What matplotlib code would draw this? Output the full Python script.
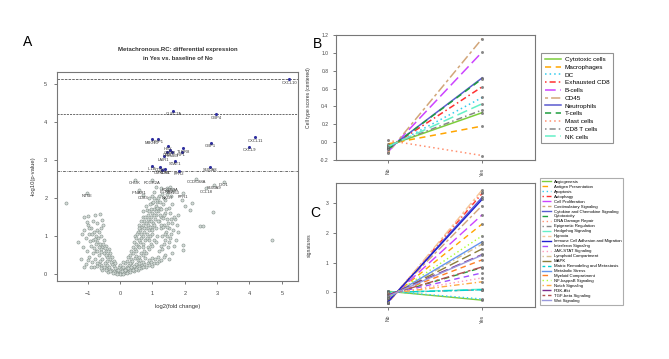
import matplotlib
matplotlib.use("Agg")
import matplotlib.pyplot as plt
from matplotlib.lines import Line2D

plt.rcParams['font.family'] = ['Liberation Sans', 'DejaVu Sans']

# ---------------- Panel A data ----------------
vol_x = [-0.05,0.02,0.08,-0.12,0.15,-0.2,0.22,0.3,-0.28,0.38,-0.35,0.45,-0.42,0.52,-0.5,0.6,-0.58,0.68,0.75,-0.65,
         0.1,-0.1,0.0,0.05,-0.03,0.2,-0.18,0.28,0.35,-0.25,0.85,0.95,1.05,1.15,-0.72,-0.8,-0.9,0.12,-0.08,0.18,
         0.42,0.55,-0.38,0.65,0.8,0.9,1.0,1.2,-0.55,0.25,
         -0.3,-0.35,-0.4,-0.45,-0.5,-0.55,-0.6,-0.62,-0.7,-0.68,-0.75,-0.8,-0.72,-0.85,-0.9,-0.95,-1.0,-0.6,-0.5,-0.45,
         -0.4,-0.28,-0.55,-0.65,-0.75,-0.85,-0.95,-1.05,-1.15,-1.18,-1.1,-1.01,-0.79,-0.62,-1.67,-0.9,-0.58,-0.52,-0.7,-0.35,
         -0.25,-0.2,-0.15,-1.3,-1.2,
         0.2,0.25,0.3,0.35,0.4,0.45,0.5,0.55,0.6,0.62,0.65,0.7,0.72,0.75,0.78,0.8,0.82,0.85,0.88,0.9,
         0.92,0.95,0.98,1.0,1.02,1.05,1.08,1.1,1.12,1.15,1.18,1.2,1.22,1.25,1.28,1.3,1.32,1.35,1.38,1.4,
         1.42,1.45,1.48,1.5,1.55,1.6,1.65,1.72,1.95,1.95,2.16,2.21,2.47,2.55,2.86,4.71,0.62,0.72,0.82,0.98,
         1.13,1.34,1.44,
         0.3,0.38,0.45,0.5,0.55,0.6,0.65,0.7,0.75,0.8,0.85,0.9,0.95,1.0,1.05,1.1,1.15,1.2,1.25,1.3,
         1.35,1.4,1.0,0.9,0.7,0.5,0.45,0.55,0.6,0.68,0.75,0.85,0.95,1.05,1.2,1.3,1.4,1.5,1.55,1.6,
         1.7,1.45,1.25,0.8,0.9,0.7,1.75,1.8,1.62,1.5,1.35,
         -0.15,0.0,0.1,-0.1,0.2,-0.22,0.3,-0.3,0.4,0.48,-0.45,0.58,0.7,-0.6,0.05,-0.05,0.15,-0.15,0.25,0.33,
         0.42,0.5,0.58,-0.33,-0.4,-0.48,0.1,0.0,0.15,0.08,0.72,0.62,0.88,0.98,1.08,1.18,1.28,0.78,-0.62,-0.78,
         -0.88,-0.98,-1.1,-0.7,
         0.35,0.4,0.42,0.5,0.52,0.58,0.6,0.64,0.66,0.7,0.74,0.76,0.8,0.82,0.86,0.88,0.92,0.94,0.96,1.0,
         1.02,1.04,1.06,1.1,1.12,1.14,1.16,1.18,1.22,1.24,1.26,1.28,1.32,1.36,1.38,1.42,1.46,1.48,1.52,1.56,
         1.58,1.66,1.68,1.8,1.9,2.0,1.05,0.98,1.12,1.35,1.58,
         -0.32,-0.38,-0.42,-0.48,-0.52,-0.58,-0.64,-0.66,-0.7,-0.74,-0.78,-0.82,-0.86,-0.92,-0.96,-1.02,-1.06,-1.12,-0.56,-0.84,
         -0.98]
vol_y = [0.02,0.01,0.03,0.05,0.06,0.08,0.09,0.12,0.11,0.15,0.14,0.18,0.17,0.2,0.2,0.22,0.23,0.25,0.27,0.26,
         0.1,0.12,0.07,0.15,0.18,0.2,0.22,0.25,0.28,0.27,0.3,0.32,0.3,0.28,0.3,0.18,0.2,0.04,0.03,0.14,
         0.08,0.12,0.06,0.16,0.2,0.24,0.22,0.35,0.12,0.05,
         0.4,0.5,0.45,0.6,0.55,0.7,0.65,0.8,0.85,0.95,1.0,1.1,1.15,0.9,1.2,1.05,1.3,1.0,0.9,0.75,
         0.35,0.32,0.4,0.5,0.6,0.55,0.45,0.27,0.71,1.05,1.49,1.36,1.56,1.57,1.88,0.75,1.2,1.3,1.35,0.65,
         0.45,0.35,0.3,0.85,0.4,
         0.35,0.45,0.5,0.4,0.55,0.65,0.6,0.75,0.7,0.85,0.95,0.8,1.0,1.1,0.9,1.2,1.05,1.3,1.15,1.4,
         1.0,1.5,1.25,1.6,1.35,1.7,1.45,1.8,1.55,1.9,1.65,1.4,1.75,1.2,1.5,1.0,1.85,1.3,1.6,0.9,
         1.1,1.45,0.7,1.2,0.95,1.35,1.16,0.9,0.77,0.64,1.69,1.86,1.27,1.27,1.62,0.9,1.16,1.51,1.69,1.86,
         1.95,1.47,1.25,
         0.3,0.35,0.42,0.48,0.38,0.45,0.55,0.5,0.62,0.55,0.7,0.65,0.8,0.75,0.9,0.85,1.0,0.6,0.75,0.65,
         0.8,0.5,1.05,0.9,0.7,0.8,1.0,1.1,1.3,1.25,1.4,1.55,1.7,2.0,2.05,2.1,1.95,1.75,1.6,1.85,
         1.45,2.2,2.25,1.8,2.0,1.65,1.3,1.1,0.55,0.4,0.45,
         0.02,0.0,0.0,0.0,0.02,0.04,0.05,0.08,0.1,0.13,0.12,0.15,0.18,0.15,0.08,0.1,0.12,0.16,0.16,0.2,
         0.22,0.26,0.3,0.2,0.25,0.3,0.2,0.25,0.28,0.32,0.33,0.36,0.38,0.42,0.4,0.46,0.38,0.42,0.35,0.4,
         0.32,0.36,0.2,0.22,
         0.6,0.7,0.85,0.95,1.05,0.9,1.2,1.4,1.05,1.3,1.2,1.5,1.35,0.95,1.45,1.65,1.25,1.85,1.4,1.15,
         1.9,1.55,1.3,1.65,1.2,1.75,1.4,2.0,1.55,1.9,1.3,1.7,1.25,1.55,1.05,1.7,1.0,1.35,0.85,1.45,
         1.05,1.5,0.75,1.55,1.95,1.8,2.15,2.05,2.3,2.0,2.05,
         0.55,0.62,0.5,0.68,0.8,0.58,0.72,1.1,0.62,0.78,0.92,0.68,1.05,0.88,1.2,0.6,0.95,1.15,1.42,1.4,
         1.52]

sig_genes = ['CXCL10','CLEC7A','GBP4','GBP1','CXCL11','CXCL9','MBC13','IDPP1','HBX','TLRR8','CD2','GZMB',
             'PSMB9','IRF1','LAIR1','STAT1','IL1B','CD86','CMKLR1','TLR8','FPR2','S100A8']
sig_x = [5.23,1.65,2.96,2.80,4.17,3.99,0.98,1.16,1.49,1.95,1.45,1.55,1.6,1.9,1.35,1.69,0.98,1.23,1.30,1.40,1.82,2.78]
sig_y = [5.12,4.29,4.20,3.45,3.60,3.35,3.54,3.56,3.37,3.31,3.22,3.26,3.20,3.22,3.10,2.98,2.84,2.82,2.74,2.76,2.72,2.82]

ns_genes = ['NT5E','CHUK','FCGR2A','LILRB2','FCGR3A','CD163','CCDC88A','IDO1','CCL18','S100A9','IFNAR1','CD83','NKG7','FPR1']
ns_x = [-1.03,0.45,1.0,1.45,1.55,1.65,2.35,3.2,2.65,2.9,0.6,0.7,1.45,1.95]
ns_y = [2.13,2.48,2.48,2.25,2.30,2.22,2.50,2.42,2.25,2.35,2.22,2.08,2.10,2.12]

thresholds = [5.12, 4.20, 2.71]

# ---------------- Panel B data ----------------
groups = ['No', 'Yes']
cell_types = ['Cytotoxic cells','Macrophages','DC','Exhausted CD8','B-cells','CD45','Neutrophils',
              'T-cells','Mast cells','CD8 T cells','NK cells']
cell_no  = [-0.04,-0.02,-0.06,-0.07,-0.11,-0.12,-0.08,-0.08,0.02,-0.04,-0.05]
cell_yes = [0.33, 0.18, 0.50, 0.62, 1.01, 1.16, 0.72, 0.71, -0.15, 0.36, 0.43]

# ---------------- Panel C data ----------------
signatures = ['Angiogenesis','Antigen Presentation','Apoptosis','Autophagy','Cell Proliferation',
              'Costimulatory Signaling','Cytokine and Chemokine Signaling','Cytotoxicity','DNA Damage Repair',
              'Epigenetic Regulation','Hedgehog Signaling','Hypoxia','Immune Cell Adhesion and Migration',
              'Interferon Signaling','JAK-STAT Signaling','Lymphoid Compartment','MAPK',
              'Matrix Remodeling and Metastasis','Metabolic Stress','Myeloid Compartment','NF-kappaB Signaling',
              'Notch Signaling','PI3K-Akt','TGF-beta Signaling','Wnt Signaling']
sig_no  = [0.03,-0.25,0.03,-0.36,-0.28,-0.3,-0.34,-0.1,-0.36,-0.01,-0.01,-0.38,-0.33,-0.08,-0.06,-0.18,-0.16,
           -0.01,-0.19,-0.12,-0.2,-0.05,-0.11,-0.09,-0.14]
sig_yes = [-0.27,2.30,-0.23,3.33,2.61,2.92,3.20,0.83,3.38,0.08,0.10,3.45,3.13,0.65,0.48,1.62,1.46,0.08,1.70,
           1.09,1.90,0.35,1.27,0.85,1.25]

palette = ['#7ccd3c','#ffa500','#33ccee','#ff3030','#cc44ff','#d2a679','#5a5ad0','#1e9e3e','#ff9070','#888888',
           '#66f0c8','#f5c89a','#2020d0','#a050ff','#ff99bb','#d8c090','#8b7d3a','#00d0d0','#6495ed','#ff7f24',
           '#adff2f','#ffaa44','#7b2d8e','#b05050','#9999dd']
ltys = ['-', (0,(4,3)), (0,(1,2)), (0,(1,2,4,2)), (0,(7,3)), (0,(2,2,6,2))]

W, H = 669, 359
fig = plt.figure(figsize=(W/100, H/100), dpi=100)

def fx(px): return px / W
def fy(py): return 1 - py / H

spine_col = '#777777'

# ---------------- Panel A ----------------
axA = fig.add_axes([fx(57), fy(281), fx(298) - fx(57), fy(72) - fy(281)])
axA.scatter(vol_x, vol_y, s=5, facecolors='#d3dbd7', edgecolors='#85918b', linewidths=0.4, zorder=2)
axA.scatter(ns_x, ns_y, s=5, facecolors='#d3dbd7', edgecolors='#85918b', linewidths=0.4, zorder=2)
axA.scatter(sig_x, sig_y, s=5, color='#3030a0', zorder=3, linewidths=0)
for g, x, y in zip(sig_genes, sig_x, sig_y):
    axA.text(x, y - 0.09, g, fontsize=3.0, ha='center', va='center', color='#333333', zorder=4)
for g, x, y in zip(ns_genes, ns_x, ns_y):
    axA.text(x, y - 0.09, g, fontsize=3.0, ha='center', va='center', color='#333333', zorder=4)
for t, ls in zip(thresholds, ['--', (0,(3,1.5)), (0,(4,1.5,1,1.5))]):
    axA.axhline(t, color='#333333', lw=0.5, linestyle=ls, zorder=1)
axA.set_xlim(-1.95, 5.5)
axA.set_ylim(-0.18, 5.31)
axA.set_xticks([-1,0,1,2,3,4,5])
axA.set_yticks([0,1,2,3,4,5])
axA.tick_params(labelsize=4, length=2, width=0.5, colors='#444444', pad=5)
for s in axA.spines.values():
    s.set_color(spine_col); s.set_linewidth(0.8)
axA.set_xlabel('log2(fold change)', fontsize=4.2, color='#333333', labelpad=6)
axA.set_ylabel('-log10(p-value)', fontsize=4.2, color='#333333', labelpad=6)
axA.set_title('Metachronous.RC: differential expression\nin Yes vs. baseline of No', fontsize=4.3,
              fontweight='bold', color='#333333', pad=9, linespacing=1.9)
fig.text(fx(28), fy(42), 'A', fontsize=10, ha='center', va='center')

# ---------------- Panel B ----------------
axB = fig.add_axes([fx(336), fy(160), fx(535) - fx(336), fy(35) - fy(160)])
handles = []
for i, name in enumerate(cell_types):
    axB.plot([1, 2], [cell_no[i], cell_yes[i]], color=palette[i], lw=1.1, linestyle=ltys[i % 6])
    axB.plot([1, 2], [cell_no[i], cell_yes[i]], linestyle='none', marker='o', ms=1.6,
             mfc='#888888', mec='#555555', mew=0.3)
    handles.append(Line2D([], [], color=palette[i], lw=1.1, linestyle=ltys[i % 6]))
axB.set_xlim(0.45, 2.56)
axB.set_ylim(-0.2, 1.2)
axB.set_xticks([1, 2])
axB.set_xticklabels(groups, rotation=90)
axB.set_yticks([-0.2,0.0,0.2,0.4,0.6,0.8,1.0,1.2])
axB.set_yticklabels(['-0.2','0.0','0.2','0.4','0.6','0.8','1.0','1.2'])
axB.tick_params(labelsize=3.6, length=2, width=0.5, colors='#444444')
for s in axB.spines.values():
    s.set_color(spine_col); s.set_linewidth(0.8)
axB.set_ylabel('Cell type scores (centered)', fontsize=3.6, color='#333333', labelpad=6)
fig.text(fx(318), fy(44), 'B', fontsize=10, ha='center', va='center')
legB = fig.legend(handles, cell_types, loc='upper left', bbox_to_anchor=(fx(541), fy(53)),
                  fontsize=4.6, frameon=True, fancybox=False, handlelength=2.6, handletextpad=0.6,
                  labelspacing=0.36, borderpad=0.55, borderaxespad=0)
legB.get_frame().set_edgecolor('#777777'); legB.get_frame().set_linewidth(0.8)

# ---------------- Panel C ----------------
axC = fig.add_axes([fx(336), fy(307), fx(535) - fx(336), fy(183) - fy(307)])
handlesC = []
for i, name in enumerate(signatures):
    axC.plot([1, 2], [sig_no[i], sig_yes[i]], color=palette[i], lw=1.0, linestyle=ltys[i % 6])
    axC.plot([1, 2], [sig_no[i], sig_yes[i]], linestyle='none', marker='o', ms=1.6,
             mfc='#888888', mec='#555555', mew=0.3)
    handlesC.append(Line2D([], [], color=palette[i], lw=1.0, linestyle=ltys[i % 6]))
axC.set_xlim(0.45, 2.56)
axC.set_ylim(-0.5, 3.68)
axC.set_xticks([1, 2])
axC.set_xticklabels(groups, rotation=90)
axC.set_yticks([0, 1, 2, 3])
axC.tick_params(labelsize=3.6, length=2, width=0.5, colors='#444444')
for s in axC.spines.values():
    s.set_color(spine_col); s.set_linewidth(0.8)
axC.set_ylabel('signatures', fontsize=3.6, color='#333333', labelpad=10)
fig.text(fx(315), fy(213), 'C', fontsize=10, ha='center', va='center')
legC = fig.legend(handlesC, signatures, loc='upper left', bbox_to_anchor=(fx(540), fy(178)),
                  fontsize=3.1, frameon=True, fancybox=False, handlelength=2.2, handletextpad=0.6,
                  labelspacing=0.22, borderpad=0.4, borderaxespad=0)
legC.get_frame().set_edgecolor('#999999'); legC.get_frame().set_linewidth(0.8)

fig.savefig('out.png', dpi=100)
